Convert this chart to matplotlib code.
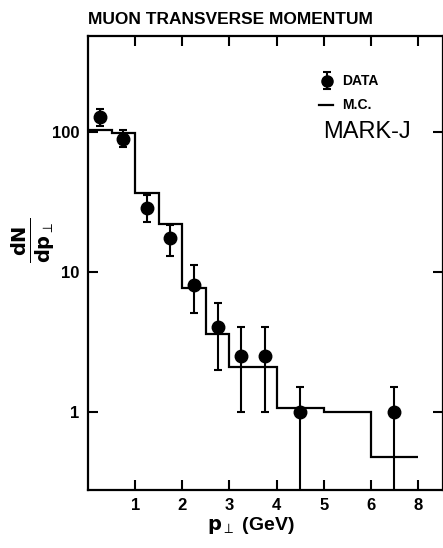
import numpy as np
import matplotlib
matplotlib.use("Agg")
import matplotlib.pyplot as plt

plt.rcParams["font.family"] = ["Liberation Sans", "DejaVu Sans"]
plt.rcParams["mathtext.fontset"] = "dejavusans"

# Monte Carlo histogram (x positions; last edge 7 stands for 8 GeV)
mc_edges = [0, 0.5, 1, 1.5, 2, 2.5, 3, 4, 5, 6, 7]
mc_vals = [103, 97, 36.6, 22, 7.6, 3.6, 2.1, 1.07, 1.0, 0.48]

# data points
data_x = [0.25, 0.75, 1.25, 1.75, 2.25, 2.75, 3.25, 3.75, 4.5, 6.5]
data_y = [126, 88, 28.6, 17.5, 8.1, 4.06, 2.5, 2.5, 1.0, 1.0]
data_hi = [146, 102, 35.5, 21.7, 11.2, 6.0, 4.0, 4.0, 1.5, 1.5]
data_lo = [110, 77, 22.8, 13.0, 5.1, 2.0, 1.0, 1.0, 0.05, 0.05]

xticks = [1, 2, 3, 4, 5, 6, 7]
xticklabels = ["1", "2", "3", "4", "5", "6", "8"]
yticks = [1, 10, 100]
yticklabels = ["1", "10", "100"]

fig = plt.figure(figsize=(4.43, 5.48), dpi=100)
ax = fig.add_axes([0.1986, 0.1058, 0.8014, 0.8284])

ax.stairs(mc_vals, mc_edges, baseline=None, color="black", lw=1.6)

y = np.array(data_y)
err = [y - np.array(data_lo), np.array(data_hi) - y]
ax.errorbar(data_x, data_y, yerr=err, fmt="o", color="black", ms=9,
            elinewidth=1.5, capsize=3, capthick=1.5)

ax.set_yscale("log")
ax.set_xlim(0, 7.53)
ax.set_ylim(0.277, 480)
ax.set_xticks(xticks)
ax.set_xticklabels(xticklabels, fontsize=12, fontweight="bold")
ax.set_yticks(yticks)
ax.set_yticklabels(yticklabels, fontsize=12, fontweight="bold")
ax.minorticks_off()
ax.tick_params(direction="in", length=7, width=1.5, top=True, right=True, pad=6)
for s in ax.spines.values():
    s.set_linewidth(1.6)

ax.set_xlabel(r"$\mathbf{p}_{\perp}$ (GeV)", fontsize=14, fontweight="bold")
ax.xaxis.set_label_coords(0.46, -0.055)
fig.text(0.075, 0.562, r"$\frac{\mathbf{dN}}{\mathbf{dp}_{\perp}}$", rotation=90,
         fontsize=20, ha="center", va="center")

fig.text(0.198, 0.95, "MUON TRANSVERSE MOMENTUM", fontsize=12.5, fontweight="bold",
         ha="left", va="bottom")

# legend
ax.errorbar([5.06], [230], yerr=[[30], [35]], fmt="o", color="black", ms=8,
            elinewidth=1.5, capsize=3, capthick=1.5, clip_on=False)
ax.text(5.4, 230, "DATA", fontsize=10, fontweight="bold", va="center")
ax.plot([4.9, 5.2], [155, 155], color="black", lw=1.6)
ax.text(5.4, 155, "M.C.", fontsize=10, fontweight="bold", va="center")
ax.text(4.98, 100, "MARK-J", fontsize=17, va="center")

fig.savefig("out.png", dpi=100)
